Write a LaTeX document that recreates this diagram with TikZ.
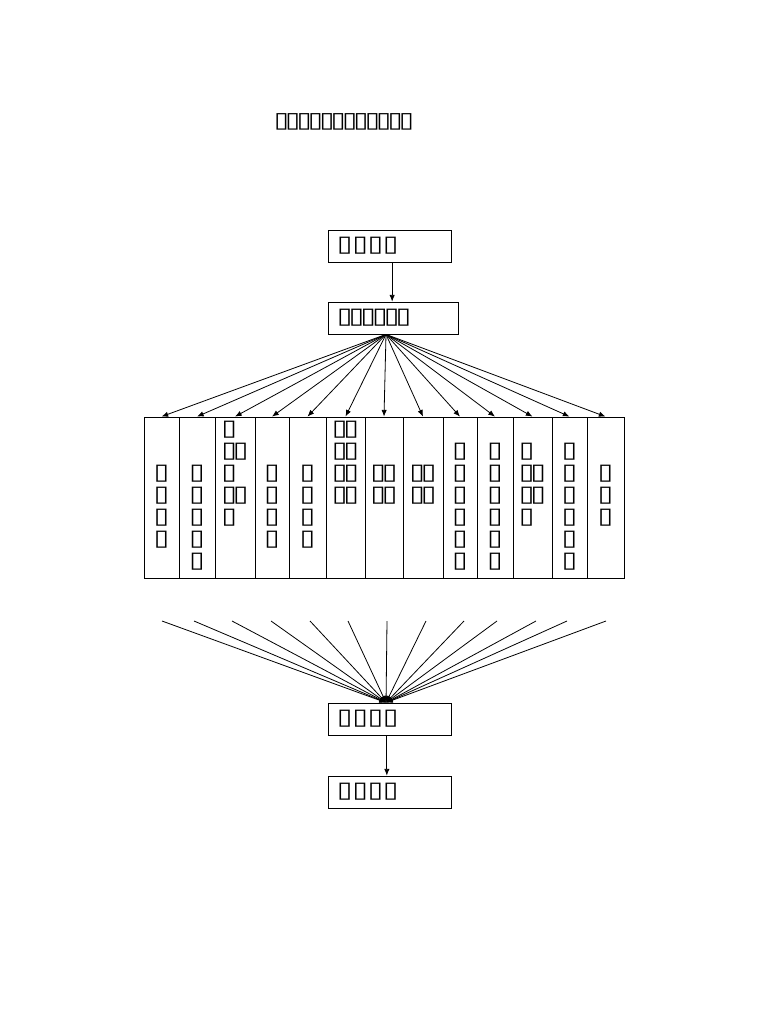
\documentclass[tikz,border=0pt]{standalone}
\usepackage{fontspec}
\usepackage{graphicx}
\newfontfamily\boxfont{DejaVu Sans}
\newcommand{\tf}{\makebox[0.55em]{\scalebox{1.3}[1.05]{▯}}}
\usetikzlibrary{arrows.meta,positioning,fit}

\begin{document}
\begin{tikzpicture}[x=0.75pt,y=-0.75pt,line width=0.6pt,
  box/.style={draw,minimum height=24pt,inner xsep=8.25pt,inner ysep=0pt,
              align=left,font=\fontsize{16}{16}\boxfont},
  col/.style={draw,inner sep=0pt},
  coltext/.style={anchor=north,inner sep=0pt,align=left,
                  font=\fontsize{16}{16.5}\boxfont},
  arrow/.style={-{Latex[length=5pt,width=4pt]}},
]
\useasboundingbox (0,0) rectangle (768,1024);

\node[font=\fontsize{15.5}{16}\boxfont] (title) at (344,122) {\tf\tf\tf\tf\tf\tf\tf\tf\tf\tf\tf\tf};

\node[box,text width=75.75pt] (start) at (389.5,246) {\tf\,\tf\,\tf\,\tf};
\node[box,text width=81pt]    (apply) at (393,318)   {\tf\tf\tf\tf\tf\tf};
\node[box,text width=75.75pt] (merge) at (389.5,719) {\tf\,\tf\,\tf\,\tf};
\node[box,text width=75.75pt] (done)  at (389.5,792) {\tf\,\tf\,\tf\,\tf};

\draw[arrow] ([xshift=2pt]start.south) -- ([xshift=2pt]start.south |- apply.north);
\draw[arrow] ([xshift=-2pt]merge.south) -- ([xshift=-2pt]merge.south |- done.north);

% columns
\foreach \i/\xl/\xr/\ty/\txt in {
  1/144/179/465/{\tf\\\tf\\\tf\\\tf},
  2/179/215/465/{\tf\\\tf\\\tf\\\tf\\\tf},
  3/215/255/421/{\tf\\\tf\tf\\\tf\\\tf\tf\\\tf},
  4/255/289/465/{\tf\\\tf\\\tf\\\tf},
  5/289/326/465/{\tf\\\tf\\\tf\\\tf},
  6/326/365/421/{\tf\tf\\\tf\tf\\\tf\tf\\\tf\tf},
  7/365/403/465/{\tf\tf\\\tf\tf},
  8/403/443/465/{\tf\tf\\\tf\tf},
  9/443/477/443/{\tf\\\tf\\\tf\\\tf\\\tf\\\tf},
  10/477/513/443/{\tf\\\tf\\\tf\\\tf\\\tf\\\tf},
  11/513/552/443/{\tf\\\tf\tf\\\tf\tf\\\tf},
  12/552/587/443/{\tf\\\tf\\\tf\\\tf\\\tf\\\tf},
  13/587/624/465/{\tf\\\tf\\\tf}}{
  \node[col,fit={(\xl,417) (\xr,578)}] (c\i) {};
  \node[coltext] (t\i) at (c\i.north |- 0,\ty) {\txt};
  \draw[arrow] ([xshift=-5.25pt]apply.south) -- (c\i.north);
}

% lines into the merge box
\foreach \i/\x in {1/162,2/194,3/232,4/271,5/310,6/348,7/387,
                   8/426,9/464,10/497,11/536,12/567,13/606}{
  \coordinate (b\i) at (\x,621);
  \draw[arrow] (b\i) -- ([xshift=-2.6pt]merge.north);
}
\end{tikzpicture}
\end{document}
